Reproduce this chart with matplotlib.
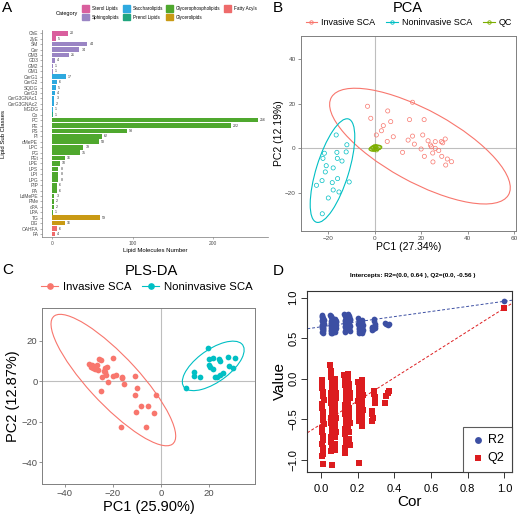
import numpy as np
import matplotlib
matplotlib.use("Agg")
import matplotlib.pyplot as plt
from matplotlib.patches import Ellipse, Rectangle
from matplotlib.lines import Line2D

plt.rcParams['font.family'] = ['Liberation Sans', 'DejaVu Sans']

# ---------------- panel A data ----------------
classes = ['ChE', 'ZyE', 'SM', 'Cer', 'GM3', 'GD3', 'GM2', 'GM1',
           'CerG1', 'CerG2', 'SQDG', 'CerG3', 'CerG3GNAc1', 'CerG3GNAc2', 'MGDG',
           'Co', 'PC', 'PE', 'PS', 'PI', 'dMePE', 'LPC', 'PG', 'PEt', 'LPE',
           'LPS', 'LPI', 'LPG', 'PIP', 'PA', 'LdMePE', 'PMe', 'cPA', 'LPA',
           'TG', 'DG', 'OAHFA', 'FA']
counts = [20, 5, 44, 34, 21, 4, 1, 1,
          17, 6, 5, 4, 3, 2, 1,
          1, 256, 222, 93, 62, 58, 39, 35, 16, 10,
          8, 8, 8, 6, 6, 3, 2, 2, 1,
          59, 16, 6, 4]
class_cat = (['Sterol Lipids'] * 2 + ['Sphingolipids'] * 6 + ['Saccharolipids'] * 7
             + ['Prenol Lipids'] + ['Glycerophospholipids'] * 18
             + ['Glycerolipids'] * 2 + ['Fatty Acyls'] * 2)
categories = ['Sterol Lipids', 'Sphingolipids', 'Saccharolipids', 'Prenol Lipids',
              'Glycerophospholipids', 'Glycerolipids', 'Fatty Acyls']
cat_colors = ['#D95F9E', '#9A85C4', '#2EA9DF', '#1FA57E', '#4FA82E', '#C99A14', '#EE6B6B']

# ---------------- panel B data (PCA) ----------------
pca_inv_x = [-3.1, -1.7, 0.7, 2.9, 3.7, 5.6, 6.9, 8.0, 5.4, 12.0, 15.0, 14.4, 16.3, 16.3,
             17.1, 20.0, 20.7, 21.3, 21.4, 23.0, 24.0, 24.4, 25.0, 25.1, 26.1, 26.1,
             27.6, 28.7, 29.3, 28.9, 30.4, 30.6, 31.3, 33.1]
pca_inv_y = [18.9, 13.5, 6.0, 7.9, 10.2, 16.8, 12.0, 5.2, 3.1, -1.8, 12.9, 3.7, 20.7, 5.5,
             1.9, -0.3, 6.0, 12.9, -3.6, 3.4, 1.5, 0.7, -2.1, -6.1, 0.0, 3.0,
             -1.0, 3.0, 2.5, -3.6, 4.2, -7.5, -4.8, -6.0]
pca_non_x = [-16.6, -12.0, -12.3, -16.3, -16.1, -14.1, -21.7, -22.3, -20.9, -21.3,
             -17.9, -16.0, -18.3, -22.7, -11.0, -25.1, -17.9, -15.4, -20.0, -22.6]
pca_non_y = [6.0, 1.6, -1.6, -1.8, -4.5, -5.7, -2.2, -4.5, -7.8, -10.6,
             -8.8, -13.6, -15.4, -14.5, -15.1, -16.6, -18.7, -19.6, -22.3, -29.4]
pca_qc_x = [-1.2, -0.6, -0.2, 0.3, 0.6, 1.0, 1.4, -0.9, 0.1, 0.8, 1.8, -0.4]
pca_qc_y = [-0.3, 0.4, -0.6, 0.2, 0.8, -0.2, 0.5, 0.1, 0.9, -0.7, 0.3, 0.0]
# ellipses: centre x, centre y, width, height, angle
pca_ell_inv = (19.5, 1.0, 88.0, 32.0, -30.0)
pca_ell_non = (-18.2, -10.0, 48.4, 14.0, 73.5)
pca_ell_qc = (0.3, 0.1, 5.6, 2.4, 12.0)

# ---------------- panel C data (PLS-DA) ----------------
pls_inv_x = [-29.9, -29.3, -28.8, -28.1, -27.4, -25.8, -25.0, -26.8, -26.0, -24.7, -25.0,
             -23.9, -23.3, -23.1, -22.6, -22.9, -21.9, -20.1, -19.9, -18.75, -16.4, -16.3,
             -15.3, -16.8, -10.7, -9.9, -10.7, -10.4, -8.2, -5.4, -6.0, -2.9, -2.2]
pls_inv_y = [8.4, 6.9, 7.9, 6.8, 6.1, 11.2, 10.4, 7.9, 5.4, 2.0, -4.6,
             4.9, 6.4, 4.4, 7.1, 3.0, -0.2, 11.4, 2.6, 3.0, 2.3, 1.5,
             -1.5, -22.4, 2.5, -3.1, -6.6, -15.2, -12.0, -12.0, -22.6, -15.8, -6.8]
pls_non_x = [10.3, 13.75, 13.75, 16.25, 19.6, 20.0, 19.9, 20.4, 21.5, 21.9,
             23.2, 24.2, 24.6, 24.6, 25.7, 27.9, 28.2, 30.0, 31.0, 22.5]
pls_non_y = [-3.3, 4.6, 2.6, 2.0, 16.6, 11.2, 8.2, 6.9, 5.9, 11.5,
             2.0, 11.0, 10.2, 3.1, 4.0, 12.2, 7.7, 6.75, 11.7, 2.2]
pls_ell_inv = (-19.8, 0.65, 80.2, 22.0, -52.4)
pls_ell_non = (21.8, 7.65, 32.2, 15.0, 42.7)

# ---------------- panel D data (permutation test) ----------------
perm_cor_1 = [0.004, 0.006, 0.008, 0.010, 0.012, 0.014, 0.005, 0.007, 0.009, 0.011, 0.013,
              0.015, 0.006, 0.008, 0.010, 0.012, 0.004, 0.009, 0.011, 0.013, 0.007, 0.010]
perm_r2_1 = [0.78, 0.77, 0.76, 0.75, 0.74, 0.73, 0.72, 0.71, 0.70, 0.69, 0.68,
             0.67, 0.66, 0.65, 0.64, 0.63, 0.62, 0.61, 0.60, 0.59, 0.58, 0.56]
perm_q2_1 = [-0.02, -0.06, -0.11, -0.16, -0.21, -0.26, -0.31, -0.36, -0.41, -0.46, -0.51,
             -0.56, -0.61, -0.66, -0.71, -0.76, -0.81, -0.86, -0.90, -0.93, -0.95, -1.05]
perm_cor_2 = [0.052, 0.054, 0.056, 0.058, 0.060, 0.062, 0.053, 0.055, 0.057, 0.059,
              0.061, 0.054, 0.056, 0.058, 0.060, 0.057, 0.055, 0.059, 0.053, 0.058,
              0.074, 0.076, 0.078, 0.080, 0.082, 0.075, 0.077, 0.079, 0.081, 0.076,
              0.078, 0.080, 0.075, 0.079, 0.077]
perm_r2_2 = [0.79, 0.77, 0.76, 0.75, 0.73, 0.72, 0.71, 0.69, 0.68, 0.67,
             0.66, 0.65, 0.63, 0.62, 0.61, 0.60, 0.59, 0.58, 0.57, 0.56,
             0.74, 0.73, 0.72, 0.71, 0.70, 0.69, 0.68, 0.67, 0.66, 0.65,
             0.64, 0.62, 0.61, 0.60, 0.58]
perm_q2_2 = [0.17, 0.10, 0.02, -0.03, -0.08, -0.13, -0.18, -0.24, -0.30, -0.36,
             -0.42, -0.48, -0.54, -0.60, -0.66, -0.72, -0.78, -0.84, -0.89, -1.06,
             0.00, -0.06, -0.12, -0.18, -0.24, -0.30, -0.36, -0.42, -0.48, -0.54,
             -0.60, -0.66, -0.72, -0.80, -0.88]
perm_cor_3 = [0.128, 0.130, 0.132, 0.134, 0.136, 0.138, 0.129, 0.131, 0.133, 0.135,
              0.137, 0.130, 0.132, 0.134, 0.136, 0.131, 0.133,
              0.148, 0.150, 0.152, 0.154, 0.156, 0.158, 0.149, 0.151, 0.153, 0.155,
              0.157, 0.150, 0.152, 0.154, 0.156]
perm_r2_3 = [0.80, 0.79, 0.77, 0.76, 0.75, 0.73, 0.72, 0.71, 0.69, 0.68,
             0.67, 0.65, 0.64, 0.62, 0.61, 0.59, 0.58,
             0.80, 0.79, 0.77, 0.76, 0.74, 0.73, 0.71, 0.70, 0.68, 0.67,
             0.65, 0.64, 0.62, 0.61, 0.59]
perm_q2_3 = [0.04, -0.02, -0.08, -0.14, -0.20, -0.26, -0.32, -0.38, -0.44, -0.50,
             -0.56, -0.62, -0.68, -0.74, -0.80, -0.86, -0.92,
             0.06, 0.00, -0.06, -0.12, -0.18, -0.24, -0.30, -0.36, -0.42, -0.48,
             -0.54, -0.60, -0.66, -0.74, -0.82]
perm_cor_4 = [0.203, 0.205, 0.207, 0.209, 0.204, 0.206, 0.208, 0.210, 0.205, 0.207,
              0.222, 0.224, 0.226, 0.228, 0.223, 0.225, 0.227, 0.224, 0.226, 0.225]
perm_r2_4 = [0.75, 0.73, 0.71, 0.69, 0.67, 0.65, 0.63, 0.61, 0.59, 0.57,
             0.72, 0.70, 0.68, 0.66, 0.64, 0.62, 0.60, 0.59, 0.58, 0.57]
perm_q2_4 = [-0.04, -0.10, -0.16, -0.22, -0.28, -0.34, -0.40, -0.46, -0.52, -1.04,
             -0.02, -0.08, -0.14, -0.20, -0.26, -0.32, -0.38, -0.44, -0.51, -0.58]
perm_cor_5 = [0.278, 0.280, 0.282, 0.279, 0.290, 0.292, 0.294, 0.296, 0.293,
              0.352, 0.356, 0.365, 0.370]
perm_r2_5 = [0.64, 0.62, 0.61, 0.60, 0.74, 0.71, 0.68, 0.65, 0.62,
             0.69, 0.67, 0.66, 0.68]
perm_q2_5 = [-0.40, -0.44, -0.48, -0.52, -0.15, -0.19, -0.23, -0.27, -0.30,
             -0.30, -0.21, -0.17, -0.15]
r2_obs = 0.955
q2_obs = 0.87
r2_intercept = 0.64
q2_intercept = -0.56

# ---------------- layout helpers ----------------
W, H = 520, 516
fig = plt.figure(figsize=(5.2, 5.16), dpi=100)


def px_box(l, t, r, b):
    return [l / W, 1 - b / H, (r - l) / W, (b - t) / H]


def fx(x):
    return x / W


def fy(y):
    return 1 - y / H


RED = '#F8766D'
TEAL = '#00BFC4'
GREEN = '#7CAE00'
GRID = '#BEBEBE'
TICKC = '#4D4D4D'

# panel letters
for lab, x, y in [('A', 2, 1.5), ('B', 273, 1.5), ('C', 2, 262.5), ('D', 273, 264)]:
    fig.text(fx(x), fy(y), lab, fontsize=11, ha='left', va='top')

# ================= A =================
axA = fig.add_axes(px_box(41.7, 30, 268.4, 237.3))
axA.patch.set_alpha(0)
cmap = dict(zip(categories, cat_colors))
ypos = np.arange(len(classes))
axA.barh(ypos, counts, height=0.85, color=[cmap[c] for c in class_cat])
for y, v in zip(ypos, counts):
    axA.text(v + 2.5, y, str(v), fontsize=2.6, va='center', ha='left', color='#333333')
axA.set_xlim(-12.8, 268.8)
axA.set_ylim(len(classes) - 0.4, -0.6)
axA.set_yticks(ypos)
axA.set_yticklabels(classes, fontsize=3.5, color=TICKC)
axA.set_xticks([0, 100, 200])
axA.set_xticklabels(['0', '100', '200'], fontsize=3.5, color=TICKC)
for s in ['top', 'right']:
    axA.spines[s].set_visible(False)
for s in ['left', 'bottom']:
    axA.spines[s].set_color('#777777')
    axA.spines[s].set_linewidth(0.5)
axA.tick_params(length=1.5, width=0.4, color='#777777', pad=1)
axA.set_xlabel('Lipid Molecules Number', fontsize=4.3, labelpad=1.5)
axA.set_ylabel('Lipid Sub Classes', fontsize=4.3, labelpad=1.5)

# category legend
fig.text(fx(56), fy(13.3), 'Category', fontsize=4, va='center', ha='left')
col_x = [82, 123, 166, 224]
row_y = [8.3, 17.0]
for i, (name, col) in enumerate(zip(categories, cat_colors)):
    cx = col_x[i // 2]
    cy = row_y[i % 2]
    fig.patches.append(Rectangle((fx(cx), fy(cy + 3.2)), 7 / W, 6.4 / H,
                                 transform=fig.transFigure, color=col))
    fig.text(fx(cx + 10), fy(cy), name, fontsize=3.3, va='center', ha='left')


def style_gg(ax, fs):
    for s in ax.spines.values():
        s.set_color('#808080')
        s.set_linewidth(0.7)
    ax.tick_params(length=2, width=0.5, color='#666666', labelsize=fs,
                   labelcolor=TICKC, pad=1.5)
    ax.axvline(0, color=GRID, lw=0.8, zorder=0)
    ax.axhline(0, color=GRID, lw=0.8, zorder=0)


def add_ellipse(ax, p, color):
    ax.add_patch(Ellipse((p[0], p[1]), p[2], p[3], angle=p[4], fill=False,
                         edgecolor=color, lw=0.8))


# ================= B =================
axB = fig.add_axes(px_box(300.7, 35.7, 516, 230.7))
style_gg(axB, 4.6)
axB.scatter(pca_inv_x, pca_inv_y, s=9, facecolors='none', edgecolors=RED, linewidths=0.5)
axB.scatter(pca_non_x, pca_non_y, s=9, facecolors='none', edgecolors=TEAL, linewidths=0.5)
axB.scatter(pca_qc_x, pca_qc_y, s=9, facecolors='none', edgecolors=GREEN, linewidths=0.5)
add_ellipse(axB, pca_ell_inv, RED)
add_ellipse(axB, pca_ell_non, TEAL)
add_ellipse(axB, pca_ell_qc, GREEN)
axB.set_xlim(-31.9, 60.9)
axB.set_ylim(-37, 50.6)
axB.set_xticks([-20, 0, 20, 40, 60])
axB.set_yticks([-20, 0, 20, 40])
axB.set_xlabel('PC1 (27.34%)', fontsize=7.5, labelpad=1)
axB.set_ylabel('PC2 (12.19%)', fontsize=7.5, labelpad=1)
fig.text(fx(408), fy(7.5), 'PCA', fontsize=10.5, ha='center', va='center')
hB = [Line2D([], [], color=c, marker='o', ms=2.5, mfc='none', mew=0.6, lw=0.8)
      for c in (RED, TEAL, GREEN)]
fig.legend(hB, ['Invasive SCA', 'Noninvasive SCA', 'QC'], ncol=3, frameon=False,
           loc='center', bbox_to_anchor=(fx(409), fy(22.7)), fontsize=6.5,
           handlelength=1.3, handletextpad=0.45, columnspacing=1.2, borderpad=0)

# ================= C =================
axC = fig.add_axes(px_box(42.3, 307.7, 255, 484))
style_gg(axC, 6.8)
axC.scatter(pls_inv_x, pls_inv_y, s=17, color=RED, linewidths=0)
axC.scatter(pls_non_x, pls_non_y, s=17, color=TEAL, linewidths=0)
add_ellipse(axC, pls_ell_inv, RED)
add_ellipse(axC, pls_ell_non, TEAL)
axC.set_xlim(-49.4, 39.2)
axC.set_ylim(-50.7, 36.4)
axC.set_xticks([-40, -20, 0, 20])
axC.set_yticks([-40, -20, 0, 20])
axC.set_xlabel('PC1 (25.90%)', fontsize=10.5, labelpad=1.5)
axC.set_ylabel('PC2 (12.87%)', fontsize=10.5, labelpad=1)
fig.text(fx(151.7), fy(270.7), 'PLS-DA', fontsize=10.6, ha='center', va='center')
hC = [Line2D([], [], color=c, marker='o', ms=3.8, lw=0.8) for c in (RED, TEAL)]
fig.legend(hC, ['Invasive SCA', 'Noninvasive SCA'], ncol=2, frameon=False,
           loc='center', bbox_to_anchor=(fx(147), fy(287.3)), fontsize=8.2,
           handlelength=1.5, handletextpad=0.45, columnspacing=0.9, borderpad=0)

# ================= D =================
BLUE_D = '#3C4FA3'
RED_D = '#DC1C1F'
axD = fig.add_axes(px_box(307.3, 291, 512, 472))
perm_cor = perm_cor_1 + perm_cor_2 + perm_cor_3 + perm_cor_4 + perm_cor_5
perm_r2 = perm_r2_1 + perm_r2_2 + perm_r2_3 + perm_r2_4 + perm_r2_5
perm_q2 = perm_q2_1 + perm_q2_2 + perm_q2_3 + perm_q2_4 + perm_q2_5
axD.axline((0, r2_intercept), (1, r2_obs), color=BLUE_D, lw=0.7, ls=(0, (3, 2)), zorder=1)
axD.axline((0, q2_intercept), (1, q2_obs), color=RED_D, lw=0.7, ls=(0, (3, 2)), zorder=1)
axD.scatter(perm_cor + [1.0], perm_r2 + [r2_obs], s=17, marker='o', color=BLUE_D,
            linewidths=0, zorder=2, label='R2')
axD.scatter(perm_cor + [1.0], perm_q2 + [q2_obs], s=17, marker='s', color=RED_D,
            linewidths=0, zorder=2, label='Q2')
axD.set_xlim(-0.0745, 1.042)
axD.set_ylim(-1.15, 1.082)
axD.set_xticks([0, 0.2, 0.4, 0.6, 0.8, 1.0])
axD.set_xticklabels(['0.0', '0.2', '0.4', '0.6', '0.8', '1.0'])
axD.set_yticks([-1.0, -0.5, 0.0, 0.5, 1.0])
axD.set_yticklabels(['\u22121.0', '\u22120.5', '0.0', '0.5', '1.0'], rotation=90, va='center')
for s in axD.spines.values():
    s.set_linewidth(0.8)
    s.set_color('#333333')
axD.tick_params(length=4.5, width=0.7, labelsize=8, pad=2, color='#333333')
axD.tick_params(axis='x', pad=4)
axD.set_xlabel('Cor', fontsize=11, labelpad=1)
axD.set_ylabel('Value', fontsize=11, labelpad=1)
fig.text(fx(412.7), fy(275), 'Intercepts: R2=(0.0, 0.64 ), Q2=(0.0, -0.56 )',
         fontsize=4.6, fontweight='bold', ha='center', va='center')
legD = axD.legend(loc='lower right', fontsize=9, fancybox=False, edgecolor='#333333',
                  borderaxespad=0, handletextpad=0.2, borderpad=0.6, labelspacing=0.5,
                  handlelength=1.2, markerscale=1.2)
legD.get_frame().set_linewidth(0.8)

fig.savefig('out.png', dpi=100)
